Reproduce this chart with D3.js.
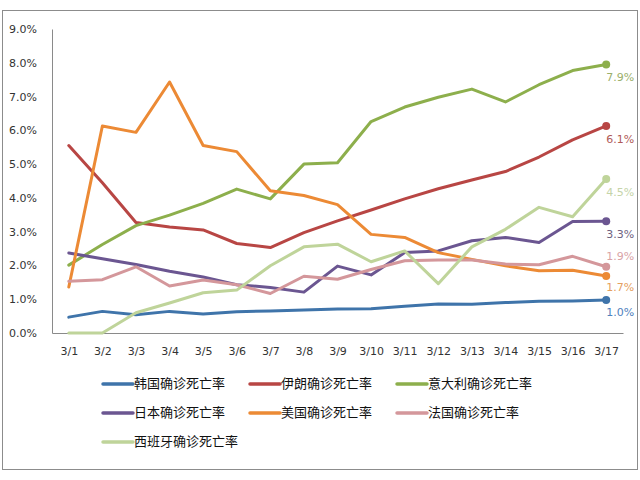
<!DOCTYPE html>
<html>
<head>
<meta charset="utf-8">
<script src="https://cdn.jsdelivr.net/npm/d3@7/dist/d3.min.js"></script>
<style>
  html, body { margin: 0; padding: 0; background: #fff; }
  svg { display: block; }
</style>
</head>
<body>
<svg id="chart" width="640" height="480"></svg>
<script>
// ---- data (percent values) ----
const dates = ["3/1","3/2","3/3","3/4","3/5","3/6","3/7","3/8","3/9","3/10","3/11","3/12","3/13","3/14","3/15","3/16","3/17"];
const yTicks = [0,1,2,3,4,5,6,7,8,9];
const seriesNames = ["韩国确诊死亡率","伊朗确诊死亡率","意大利确诊死亡率","日本确诊死亡率","美国确诊死亡率","法国确诊死亡率","西班牙确诊死亡率"];
const korea  = [0.47,0.64,0.54,0.64,0.56,0.63,0.65,0.68,0.71,0.72,0.79,0.86,0.85,0.90,0.94,0.95,0.98];
const iran   = [5.55,4.45,3.27,3.14,3.05,2.65,2.53,2.97,3.32,3.64,3.97,4.27,4.53,4.78,5.21,5.72,6.13];
const italy  = [2.01,2.62,3.18,3.49,3.84,4.26,3.97,5.00,5.04,6.26,6.69,6.98,7.22,6.84,7.35,7.77,7.95];
const japan  = [2.37,2.20,2.03,1.83,1.66,1.43,1.35,1.21,1.98,1.72,2.38,2.43,2.73,2.83,2.68,3.30,3.31];
const usa    = [1.36,6.13,5.94,7.43,5.55,5.37,4.21,4.07,3.80,2.92,2.83,2.38,2.18,1.99,1.84,1.86,1.69];
const france = [1.53,1.58,1.96,1.39,1.57,1.43,1.17,1.68,1.59,1.88,2.14,2.16,2.16,2.04,2.02,2.27,1.96];
const spain  = [0.00,0.00,0.60,0.89,1.19,1.27,1.99,2.55,2.63,2.11,2.43,1.46,2.55,3.07,3.72,3.44,4.56];
const endLabels = ["1.0%","6.1%","7.9%","3.3%","1.7%","1.9%","4.5%"];

const seriesValues = [korea, iran, italy, japan, usa, france, spain];
const colors = ["#3F74AA","#B84644","#8DAF4C","#6B5691","#EC8A35","#D4979B","#BFD49A"];
const labelColors = ["#4F81BD","#B05A58","#9BAF6B","#6E6280","#E5A060","#D9A3A6","#C5D4A8"];
const labelDy = [13, 14, 14, 14, 12, -10, 14];

const svg = d3.select("#chart");

// outer frame
svg.append("rect")
  .attr("x", 2.5).attr("y", 10.5).attr("width", 635).attr("height", 459)
  .attr("fill", "#fff").attr("stroke", "#8c8c8c").attr("stroke-width", 1);

const x = d3.scalePoint().domain(dates).range([52, 623]).padding(0.5);
const y = d3.scaleLinear().domain([0, 9]).range([333, 29]);

// y axis
const yAxis = svg.append("g")
  .attr("transform", "translate(52,0)")
  .call(d3.axisLeft(y).tickValues(yTicks).tickFormat(d => d.toFixed(1) + "%").tickSize(0).tickPadding(15));
yAxis.select(".domain").attr("stroke", "#8a8a8a");
yAxis.selectAll("text").attr("font-family", "DejaVu Sans").attr("font-size", 11).attr("fill", "#333");

// x axis
const xAxis = svg.append("g")
  .attr("transform", "translate(0,333)")
  .call(d3.axisBottom(x).tickSize(0).tickPadding(14));
xAxis.select(".domain").attr("stroke", "#8a8a8a");
xAxis.selectAll("text").attr("font-family", "DejaVu Sans").attr("font-size", 11).attr("fill", "#333");

// lines
const line = d3.line().x((d, i) => x(dates[i])).y(d => y(d));
const g = svg.append("g");
seriesValues.forEach((vals, k) => {
  g.append("path")
    .datum(vals)
    .attr("d", line)
    .attr("fill", "none")
    .attr("stroke", colors[k])
    .attr("stroke-width", 3)
    .attr("stroke-linejoin", "round")
    .attr("stroke-linecap", "round");
});
// end markers and labels
seriesValues.forEach((vals, k) => {
  const last = vals.length - 1;
  const px = x(dates[last]), py = y(vals[last]);
  g.append("circle").attr("cx", px).attr("cy", py).attr("r", 4).attr("fill", colors[k]);
  g.append("text")
    .attr("x", px).attr("y", py + labelDy[k])
    .attr("dominant-baseline", "middle")
    .attr("font-family", "DejaVu Sans").attr("font-size", 11)
    .attr("fill", labelColors[k])
    .text(endLabels[k]);
});

// legend
const legCols = [103, 250, 397];
const legRows = [384, 413, 442];
seriesNames.forEach((name, k) => {
  const lx = legCols[k % 3], ly = legRows[Math.floor(k / 3)];
  const lg = svg.append("g").attr("transform", `translate(${lx},${ly})`);
  lg.append("line").attr("x1", 0).attr("x2", 30).attr("y1", 0).attr("y2", 0)
    .attr("stroke", colors[k]).attr("stroke-width", 3.5).attr("stroke-linecap", "round");
  lg.append("text").attr("x", 31).attr("y", 0)
    .attr("dominant-baseline", "middle")
    .attr("font-family", "Noto Sans CJK SC").attr("font-size", 13)
    .attr("fill", "#111")
    .text(name);
});
</script>
</body>
</html>
